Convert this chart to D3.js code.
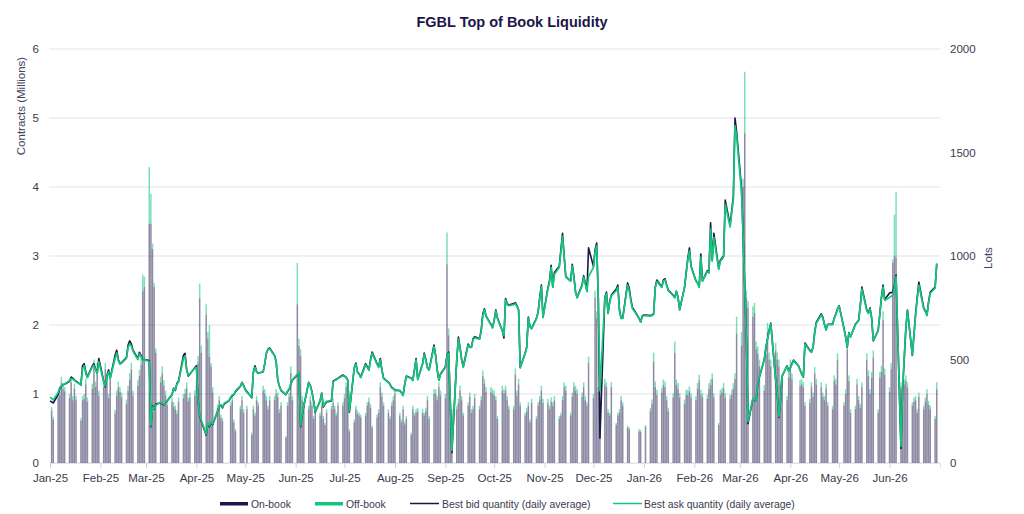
<!DOCTYPE html>
<html><head><meta charset="utf-8">
<script src="https://cdn.jsdelivr.net/npm/d3@7/dist/d3.min.js"></script>
<style>
html,body{margin:0;padding:0;background:#fff;}
svg{display:block;font-family:"Liberation Sans",Arial,sans-serif;}
</style></head>
<body>
<svg id="chart" width="1024" height="514"></svg>
<script>
// ---- DATA (one value per weekday, 1 Jan 2025 – 30 Jun 2026) ----
const startDate = "2025-01-01";
const endDate = "2026-06-30";
const monthTickFormat = "%b-%y";
const leftTicks = [0, 1, 2, 3, 4, 5, 6];
const rightTicks = [0, 500, 1000, 1500, 2000];
const seriesNames = ["On-book", "Off-book", "Best bid quantity (daily average)", "Best ask quantity (daily average)"];

// On-book volume, contracts (millions)
const onBook = [
 0,0.76,0.63,
 0.95,0.98,1.16,1.08,1.04, 0.94,1.17,0.91,1.08,0.92, 0.61,0.91,0.93,1.14,0.89, 1.08,1.41,1.10,1.36,0.98,
 1.10,1.36,1.22,0.94,1.21, 0.72,0.98,1.10,1.03,0.95, 0.86,1.05,1.21,1.35,0.98, 1.12,1.26,1.42,2.49,2.55,
 3.47,3.47,3.10,2.55,1.60, 1.17,1.30,1.12,0.98,0.84, 0.89,0.82,0.78,0.71,0.89, 0.94,1.00,1.09,0.89,0.95,
 0.98,1.12,1.46,2.39,1.60, 2.15,1.80,1.54,1.40,1.02, 0.80,0.91,0.66,0.61,0, 0,0.83,0.91,0.59,0.46,
 0.78,0.91,0.73,0,0.78, 0.41,0.78,0.69,0.91,0.83, 1.05,1.00,0.91,0.78,0.91, 0.91,1.00,0.96,0.73,0.83, 0.37,0.83,0.96,1.31,0.91,
 2.30,1.70,1.55,0.91,0.83, 0.78,0.91,0.83,0.64,0.78, 0.69,0.83,0.64,0.55,0.73, 0.78,0.87,0.78,0.69,0.83,
 0.83,0.94,1.10,1.00,0.46, 0.59,0.78,0.71,0.69,0.66, 0.69,0.83,0.89,0.80,0.51, 0.66,0.73,1.10,0.96,0.83,
 0.73,0.64,0.83,0.91,1.00, 0.69,0.59,0.78,0.56,0.64, 0.41,0.78,0.69,0.73,0.75, 0.73,0.69,0.75,0.91,0.64, 1.00,1.00,0.91,1.10,0.98,
 0.94,2.88,1.85,0.80,0.73, 0.78,0.87,1.05,0.91,0.69, 0.83,0.96,0.73,0.78,0.94, 0.78,0.91,1.26,1.15,1.03, 1.03,1.00,0.98,0.91,0.64,
 1.05,1.00,1.05,0.91,0.78, 0.78,1.28,0.98,1.14,0.83, 0.69,0.75,0.83,0.59,0.87, 0.64,0.83,0.91,1.05,0.87,
 0.87,0.78,0.89,0.83,0.91, 0.64,0.69,0.91,1.10,1.05, 0.69,0.96,1.10,1.05,1.00, 0.96,1.10,0.91,0.83,1.45,
 0.94,2.40,2.10,1.03,0.84, 1.14,1.10,0.73,0.69,1.10, 0.55,0.69,0.73,0.91,0.83, 0.51,0.49,0,0,0, 0.46,0.45,0,0,0.52,
 0.75,0.86,1.47,1.10,0.99, 1.02,1.13,1.10,0.91,0.75, 0.95,1.60,1.13,1.08,0.95, 0.86,0.99,0.99,1.04,0.95,
 0.91,1.08,1.20,0.99,0.95, 0.93,1.08,1.13,1.22,0.95, 0.55,0.99,1.02,1.08,0.95, 0.93,0.99,1.08,1.22,1.88,
 1.70,4.00,4.78,2.40,2.25, 2.12,2.18,1.65,1.58,1.40, 1.05,1.58,1.90,1.50,1.40, 1.63,1.50,1.40,1.13,1.18,
 0.91,1.24,1.40,1.22,0, 0,1.12,1.14,1.10,0.83, 0.87,1.10,0.96,1.30,1.14, 1.10,0.96,0.91,1.08,0.83, 0.78,1.19,1.14,1.49,0,
 0.83,1.00,1.65,1.19,0.73, 0.78,1.14,0.91,0.80,1.10, 1.49,1.26,1.00,1.24,1.53, 0.73,1.24,1.32,2.07,1.28,
 1.03,1.36,2.90,3.00,2.98, 1.10,1.00,1.14,1.19,1.10, 0.83,0.89,0.91,0.73,0.96, 0.78,0.89,1.00,0.84,0.78, 0.64,1.07
];

// Off-book volume, contracts (millions)
const offBook = [
 0,0.05,0.04,
 0.05,0.07,0.09,0.07,0.06, 0.06,0.08,0.06,0.07,0.05, 0.04,0.06,0.07,0.08,0.06, 0.07,0.09,0.08,0.09,0.07,
 0.08,0.09,0.08,0.06,0.09, 0.05,0.07,0.08,0.07,0.07, 0.06,0.07,0.09,0.10,0.07, 0.08,0.09,0.10,0.24,0.15,
 0.82,0.43,0.08,0.06,0.06, 0.08,0.10,0.08,0.07,0.06, 0.06,0.06,0.05,0.05,0.06, 0.06,0.07,0.08,0.06,0.07,
 0.07,0.08,0.09,0.21,0.10, 0.15,0.10,0.46,0.05,0.08, 0.05,0.06,0.04,0.04,0, 0,0.05,0.06,0.04,0.03,
 0.05,0.06,0.05,0,0.05, 0.03,0.05,0.04,0.06,0.05, 0.07,0.07,0.06,0.05,0.06, 0.06,0.07,0.06,0.05,0.05, 0.02,0.05,0.06,0.09,0.06,
 0.60,0.10,0.10,0.06,0.05, 0.05,0.06,0.05,0.04,0.05, 0.04,0.05,0.04,0.03,0.05, 0.05,0.06,0.05,0.04,0.05,
 0.05,0.06,0.07,0.07,0.03, 0.04,0.05,0.05,0.04,0.04, 0.04,0.05,0.06,0.05,0.03, 0.04,0.05,0.07,0.06,0.05,
 0.05,0.04,0.05,0.06,0.07, 0.04,0.04,0.05,0.04,0.04, 0.03,0.05,0.04,0.05,0.05, 0.05,0.04,0.05,0.06,0.04, 0.07,0.07,0.06,0.07,0.07,
 0.06,0.46,0.10,0.05,0.05, 0.05,0.06,0.07,0.06,0.04, 0.05,0.06,0.05,0.05,0.06, 0.05,0.06,0.08,0.07,0.07, 0.07,0.07,0.07,0.06,0.04,
 0.07,0.07,0.07,0.06,0.05, 0.05,0.09,0.07,0.08,0.05, 0.04,0.05,0.05,0.04,0.06, 0.04,0.05,0.06,0.07,0.06,
 0.06,0.05,0.06,0.05,0.06, 0.04,0.04,0.06,0.07,0.07, 0.04,0.06,0.07,0.07,0.07, 0.06,0.07,0.06,0.05,0.09,
 0.06,0.10,0.10,0.07,0.06, 0.08,0.07,0.05,0.04,0.07, 0.03,0.04,0.05,0.06,0.05, 0.03,0.03,0,0,0, 0.03,0.03,0,0,0.03,
 0.05,0.06,0.13,0.08,0.07, 0.07,0.08,0.08,0.06,0.05, 0.06,0.16,0.08,0.08,0.06, 0.06,0.07,0.07,0.07,0.06,
 0.06,0.08,0.08,0.07,0.06, 0.06,0.08,0.08,0.08,0.06, 0.03,0.07,0.07,0.08,0.06, 0.06,0.07,0.08,0.08,0.24,
 0.20,0.12,0.89,0.10,0.10, 0.15,0.14,0.11,0.11,0.10, 0.08,0.11,0.13,0.10,0.10, 0.11,0.10,0.10,0.08,0.08,
 0.06,0.09,0.10,0.08,0, 0,0.08,0.08,0.07,0.05, 0.06,0.07,0.06,0.09,0.08, 0.07,0.06,0.06,0.07,0.05, 0.05,0.08,0.08,0.10,0,
 0.05,0.07,0.11,0.08,0.05, 0.05,0.08,0.06,0.05,0.07, 0.10,0.08,0.07,0.08,0.10, 0.05,0.08,0.09,0.13,0.09,
 0.07,0.09,0.05,0.60,0.95, 0.07,0.07,0.08,0.08,0.07, 0.05,0.06,0.06,0.05,0.06, 0.05,0.06,0.07,0.06,0.05, 0.04,0.10
];

// Best bid quantity, daily average (lots)
const bestBid = [
 300,295,290,
 330,360,370,378,380, 395,415,410,402,395, 377,470,480,440,415, 470,480,455,435,505,
 395,367,420,450,410, 520,545,500,480,485, 510,570,590,575,545, 505,535,520,497,500,
 495,175,275,260,285, 290,285,280,290,300, 330,362,350,385,395, 520,530,450,420,430,
 460,470,300,230,200, 135,190,175,195,185, 250,270,280,266,285, 300,315,325,330,345,
 370,390,375,355,345, 315,440,470,440,435, 440,480,530,550,556, 520,490,400,370,350, 330,345,355,380,400,
 425,435,175,230,275, 390,375,345,300,245, 300,338,270,285,295, 300,395,400,405,410,
 425,420,415,400,245, 460,483,440,430,415, 480,465,450,500,536, 480,464,505,450,410,
 390,380,365,360,353, 350,340,328,380,420, 410,400,450,505,405, 480,531,500,460,450, 570,520,450,400,430,
 464,520,536,300,50, 500,609,560,500,465, 575,560,560,600,610, 600,640,720,745,710, 670,655,690,740,700,
 640,604,795,770,763, 770,775,760,740,460, 530,560,705,660,650, 700,730,800,860,705,
 845,880,955,850,920, 950,1030,1110,1000,900, 880,960,900,826,800, 860,905,870,830,1040,
 950,1030,1063,790,120, 800,826,725,780,811, 840,860,740,700,700, 870,845,790,750,740, 700,681,710,715,715,
 712,715,720,850,884, 850,885,890,860,836, 810,800,830,800,740, 850,920,990,1039,950,
 880,870,850,1010,880, 930,920,1160,980,1110, 940,980,990,1000,1270, 1150,1220,1290,1667,1600,
 1330,1100,850,600,190, 310,300,305,380,415, 500,560,600,640,676, 400,330,220,300,420,
 470,445,460,480,497, 470,450,430,415,580, 545,536,560,633,680, 720,705,670,643,670, 670,700,720,745,760,
 650,610,560,630,610, 670,680,690,760,850, 740,725,750,700,590, 640,720,800,860,790,
 821,823,826,860,908, 70,350,500,650,739, 520,620,720,800,874, 749,735,715,780,826, 850,960
];

// Best ask quantity, daily average (lots)
const bestAsk = [
 318,312,305,
 340,365,372,380,382, 398,408,405,400,392, 378,455,470,432,412, 465,472,450,432,490,
 392,372,418,440,408, 505,532,495,478,482, 505,558,575,565,540, 500,528,515,495,498,
 490,180,270,262,280, 292,288,282,292,302, 332,360,352,380,392, 505,518,448,425,432,
 458,462,298,235,205, 140,192,180,198,188, 252,272,282,270,288, 302,318,328,332,348,
 372,388,372,352,342, 318,438,462,438,432, 442,482,532,548,552, 518,488,402,372,352, 332,348,358,382,402,
 428,438,180,235,278, 388,372,342,298,248, 302,335,272,288,298, 302,392,398,402,408,
 422,418,412,398,250, 458,478,438,428,412, 475,462,448,495,530, 478,462,498,448,408,
 388,378,362,358,350, 348,338,325,378,418, 408,398,448,498,402, 478,525,498,458,448, 562,518,448,400,428,
 462,518,530,310,60, 498,600,555,498,462, 570,558,558,595,605, 598,635,712,740,708, 668,652,688,735,698,
 638,615,788,765,760, 765,770,755,738,462, 528,558,700,658,648, 698,728,795,852,702,
 840,872,945,848,912, 945,1020,1095,995,898, 878,952,895,824,798, 855,898,865,828,900,
 945,1020,1050,790,350, 795,820,722,778,808, 832,850,735,698,698, 860,832,782,745,735, 698,680,708,712,712,
 710,712,718,845,878, 848,878,885,858,832, 808,798,828,798,742, 848,915,982,1025,948,
 878,868,848,995,878, 925,918,1130,975,1090, 935,975,985,995,1250, 1140,1210,1275,1630,1580,
 1310,1090,845,600,200, 312,302,308,382,418, 498,558,598,638,672, 402,332,225,302,422,
 468,442,458,478,495, 468,448,428,418,575, 542,534,558,628,675, 715,700,668,642,668, 668,698,718,742,758,
 648,608,562,628,608, 668,678,688,755,840, 735,722,745,698,592, 638,715,795,850,785,
 800,805,812,850,900, 80,360,505,648,735, 522,618,715,792,860, 745,732,712,775,820, 845,965
];

// ---- CHART ----
const parse = d3.timeParse("%Y-%m-%d");
const days = d3.timeDay.range(parse(startDate), d3.timeDay.offset(parse(endDate), 1))
  .filter(d => d.getDay() !== 0 && d.getDay() !== 6);
const rows = days.map((d, i) => ({date: d, on: onBook[i], off: offBook[i], bid: bestBid[i], ask: bestAsk[i]}));

const svg = d3.select("#chart");
const W = 1024, H = 514;
const m = {l: 50, r: 84, t: 49, b: 51};
const x = d3.scaleTime().domain([parse("2025-01-01"), parse("2026-07-02")]).range([m.l, W - m.r]);
const yL = d3.scaleLinear().domain([0, 6]).range([H - m.b, m.t]);
const yR = d3.scaleLinear().domain([0, 2000]).range([H - m.b, m.t]);

const navy = "#1b1647", green = "#12c77c", gridC = "#e1e1f3", txt = "#3a3a4c";
const FONT = "Liberation Sans, Arial, sans-serif";

// Title
svg.append("text").attr("x", 512).attr("y", 27).attr("text-anchor", "middle")
  .attr("font-size", 14.5).attr("font-weight", "bold").attr("fill", navy)
  .text("FGBL Top of Book Liquidity");

// Gridlines
svg.append("g").selectAll("line").data(leftTicks).join("line")
  .attr("x1", m.l - 1).attr("x2", W - m.r)
  .attr("y1", d => yL(d)).attr("y2", d => yL(d))
  .attr("stroke", gridC).attr("stroke-width", 1);

// Left axis
const gL = svg.append("g").attr("transform", `translate(${m.l},0)`)
  .call(d3.axisLeft(yL).tickValues(leftTicks).tickSize(0).tickPadding(11).tickFormat(d3.format("d")));
gL.select(".domain").remove();
gL.selectAll("text").attr("font-size", 11.5).attr("fill", txt).attr("font-family", FONT);

// Right axis
const gR = svg.append("g").attr("transform", `translate(${W - m.r},0)`)
  .call(d3.axisRight(yR).tickValues(rightTicks).tickSize(0).tickPadding(10).tickFormat(d3.format("d")));
gR.select(".domain").remove();
gR.selectAll("text").attr("font-size", 11.5).attr("fill", txt).attr("font-family", FONT);

// Bottom axis (month starts Jan-25 … Jun-26)
const monthTicks = d3.timeMonth.range(parse(startDate), parse(endDate));
const gX = svg.append("g").attr("transform", `translate(0,${H - m.b})`)
  .call(d3.axisBottom(x).tickValues(monthTicks).tickSize(5).tickPadding(6).tickFormat(d3.timeFormat(monthTickFormat)));
gX.select(".domain").attr("stroke", gridC);
gX.selectAll(".tick line").attr("stroke", "#d0d0e4");
gX.selectAll("text").attr("font-size", 11.5).attr("fill", txt).attr("font-family", FONT);

// Axis titles
svg.append("text").attr("transform", "translate(25,106) rotate(-90)").attr("text-anchor", "middle")
  .attr("font-size", 11.5).attr("fill", "#44425e").text("Contracts (Millions)");
svg.append("text").attr("transform", "translate(992,258) rotate(-90)").attr("text-anchor", "middle")
  .attr("font-size", 11.5).attr("fill", "#44425e").text("Lots");

// Bars (stacked)
const bw = 1.5;
const bars = svg.append("g");
bars.selectAll("rect.on").data(rows.filter(r => r.on > 0)).join("rect").attr("class", "on")
  .attr("x", d => x(d.date) - bw / 2).attr("width", bw)
  .attr("y", d => yL(d.on)).attr("height", d => yL(0) - yL(d.on))
  .attr("fill", navy).attr("fill-opacity", 0.5);
bars.selectAll("rect.off").data(rows.filter(r => r.off > 0)).join("rect").attr("class", "off")
  .attr("x", d => x(d.date) - bw / 2).attr("width", bw)
  .attr("y", d => yL(d.on + d.off)).attr("height", d => yL(d.on) - yL(d.on + d.off))
  .attr("fill", green).attr("fill-opacity", 0.55);

// Lines
const lineBid = d3.line().x(d => x(d.date)).y(d => yR(d.bid));
const lineAsk = d3.line().x(d => x(d.date)).y(d => yR(d.ask));
svg.append("path").datum(rows).attr("d", lineBid).attr("fill", "none")
  .attr("stroke", navy).attr("stroke-width", 1.6).attr("stroke-linejoin", "round");
svg.append("path").datum(rows).attr("d", lineAsk).attr("fill", "none")
  .attr("stroke", green).attr("stroke-width", 1.7).attr("stroke-linejoin", "round");

// Legend
const legend = [
  {name: seriesNames[0], type: "rect", color: navy, x: 220, tx: 251},
  {name: seriesNames[1], type: "rect", color: green, x: 315, tx: 346},
  {name: seriesNames[2], type: "line", color: navy, x: 410, tx: 442},
  {name: seriesNames[3], type: "line", color: green, x: 613, tx: 644}
];
const lg = svg.append("g");
legend.forEach(l => {
  if (l.type === "rect") {
    lg.append("rect").attr("x", l.x).attr("y", 502).attr("width", 28).attr("height", 3.5).attr("fill", l.color);
  } else {
    lg.append("line").attr("x1", l.x).attr("x2", l.x + 29).attr("y1", 503.5).attr("y2", 503.5)
      .attr("stroke", l.color).attr("stroke-width", 1.5);
  }
  lg.append("text").attr("x", l.tx).attr("y", 507.5).attr("font-size", 10.4).attr("fill", txt)
    .attr("font-family", FONT).text(l.name);
});
</script>
</body></html>
